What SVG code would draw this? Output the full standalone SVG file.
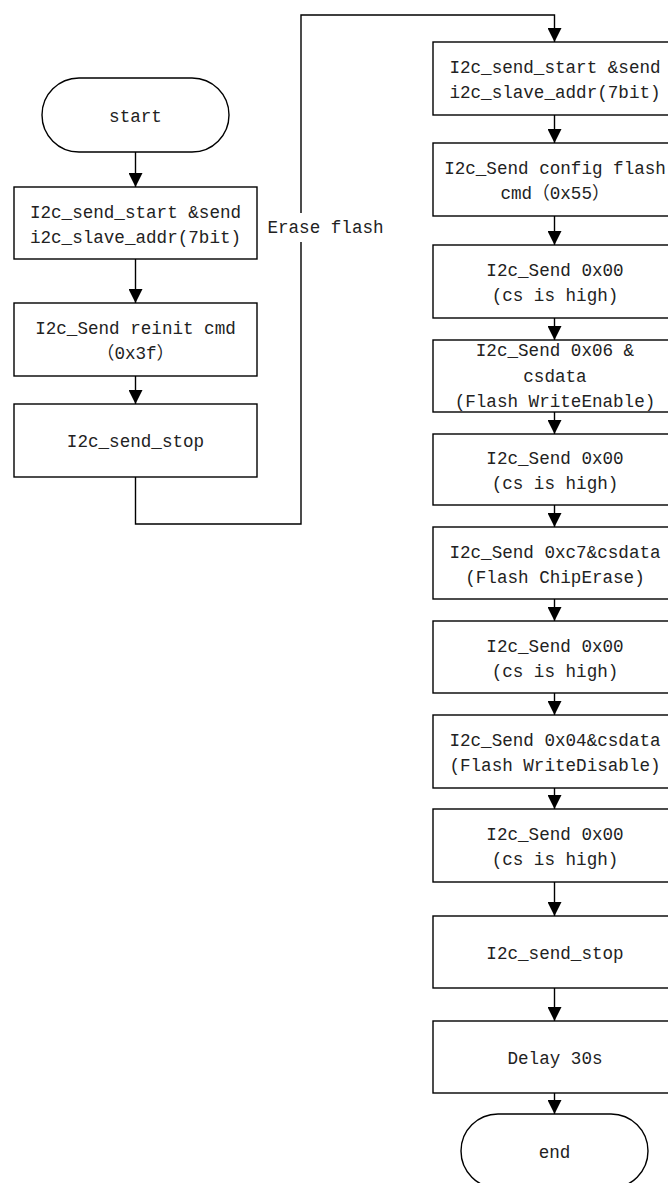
<svg xmlns="http://www.w3.org/2000/svg" width="668" height="1183" viewBox="0 0 668 1183">
<style>
.b{fill:#fff;stroke:#000;stroke-width:1.4}
.t{font-family:"Liberation Mono","Noto Sans CJK SC",monospace;font-size:17.6px;fill:#222;text-anchor:middle}
.c{fill:none;stroke:#000;stroke-width:1.4}
</style>
<defs>
<marker id="ah" markerUnits="userSpaceOnUse" markerWidth="14" markerHeight="14" refX="14" refY="7" orient="auto" viewBox="0 0 14 14">
<path d="M0,0 L14,7 L0,14 z" fill="#000"/>
</marker>
</defs>
<rect width="668" height="1183" fill="#fff"/>
<g id="connectors">
<line class="c" x1="135.5" y1="152" x2="135.5" y2="187" marker-end="url(#ah)"/>
<line class="c" x1="135.5" y1="259" x2="135.5" y2="303" marker-end="url(#ah)"/>
<line class="c" x1="135.5" y1="376" x2="135.5" y2="404" marker-end="url(#ah)"/>
<polyline class="c" points="135.5,477 135.5,524 301,524 301,15 554.5,15 554.5,42" marker-end="url(#ah)"/>
<line class="c" x1="554.5" y1="115" x2="554.5" y2="143" marker-end="url(#ah)"/>
<line class="c" x1="554.5" y1="216" x2="554.5" y2="245" marker-end="url(#ah)"/>
<line class="c" x1="554.5" y1="318" x2="554.5" y2="340" marker-end="url(#ah)"/>
<line class="c" x1="554.5" y1="412" x2="554.5" y2="434" marker-end="url(#ah)"/>
<line class="c" x1="554.5" y1="505" x2="554.5" y2="527" marker-end="url(#ah)"/>
<line class="c" x1="554.5" y1="599" x2="554.5" y2="621" marker-end="url(#ah)"/>
<line class="c" x1="554.5" y1="693" x2="554.5" y2="715" marker-end="url(#ah)"/>
<line class="c" x1="554.5" y1="788" x2="554.5" y2="809" marker-end="url(#ah)"/>
<line class="c" x1="554.5" y1="882" x2="554.5" y2="916" marker-end="url(#ah)"/>
<line class="c" x1="554.5" y1="988" x2="554.5" y2="1021" marker-end="url(#ah)"/>
<line class="c" x1="554.5" y1="1093" x2="554.5" y2="1114" marker-end="url(#ah)"/>
<g id="label-erase">
<rect x="267" y="213" width="117" height="29" fill="#fff"/>
<text class="t" x="325.5" y="233">Erase flash</text>
</g>
</g>
<g id="start"><rect class="b" x="42" y="78" width="187" height="74" rx="37" ry="37"/><text class="t" x="135.5" y="122">start</text></g>
<g id="l1"><rect class="b" x="14" y="187" width="243" height="72"/><text class="t" x="135.5" y="218">I2c_send_start &amp;send</text><text class="t" x="135.5" y="243">i2c_slave_addr(7bit)</text></g>
<g id="l2"><rect class="b" x="14" y="303" width="243" height="73"/><text class="t" x="135.5" y="334">I2c_Send reinit cmd</text><text class="t" x="135.5" y="359">（0x3f）</text></g>
<g id="l3"><rect class="b" x="14" y="404" width="243" height="73"/><text class="t" x="135.5" y="447">I2c_send_stop</text></g>
<g id="r1"><rect class="b" x="433" y="42" width="243" height="73"/><text class="t" x="555" y="73">I2c_send_start &amp;send</text><text class="t" x="555" y="98">i2c_slave_addr(7bit)</text></g>
<g id="r2"><rect class="b" x="433" y="143" width="243" height="73"/><text class="t" x="555" y="174">I2c_Send config flash</text><text class="t" x="555" y="199">cmd（0x55）</text></g>
<g id="r3"><rect class="b" x="433" y="245" width="243" height="73"/><text class="t" x="555" y="276">I2c_Send 0x00</text><text class="t" x="555" y="301">(cs is high)</text></g>
<g id="r4"><rect class="b" x="433" y="340" width="243" height="72"/><text class="t" x="555" y="356">I2c_Send 0x06 &amp;</text><text class="t" x="555" y="382">csdata</text><text class="t" x="555" y="407">(Flash WriteEnable)</text></g>
<g id="r5"><rect class="b" x="433" y="434" width="243" height="71"/><text class="t" x="555" y="464">I2c_Send 0x00</text><text class="t" x="555" y="489">(cs is high)</text></g>
<g id="r6"><rect class="b" x="433" y="527" width="243" height="72"/><text class="t" x="555" y="558">I2c_Send 0xc7&amp;csdata</text><text class="t" x="555" y="583">(Flash ChipErase)</text></g>
<g id="r7"><rect class="b" x="433" y="621" width="243" height="72"/><text class="t" x="555" y="652">I2c_Send 0x00</text><text class="t" x="555" y="677">(cs is high)</text></g>
<g id="r8"><rect class="b" x="433" y="715" width="243" height="73"/><text class="t" x="555" y="746">I2c_Send 0x04&amp;csdata</text><text class="t" x="555" y="771">(Flash WriteDisable)</text></g>
<g id="r9"><rect class="b" x="433" y="809" width="243" height="73"/><text class="t" x="555" y="840">I2c_Send 0x00</text><text class="t" x="555" y="865">(cs is high)</text></g>
<g id="r10"><rect class="b" x="433" y="916" width="243" height="72"/><text class="t" x="555" y="959">I2c_send_stop</text></g>
<g id="r11"><rect class="b" x="433" y="1021" width="243" height="72"/><text class="t" x="555" y="1064">Delay 30s</text></g>
<g id="end"><rect class="b" x="461" y="1114" width="187" height="74" rx="37" ry="37"/><text class="t" x="554.5" y="1158">end</text></g>
</svg>
